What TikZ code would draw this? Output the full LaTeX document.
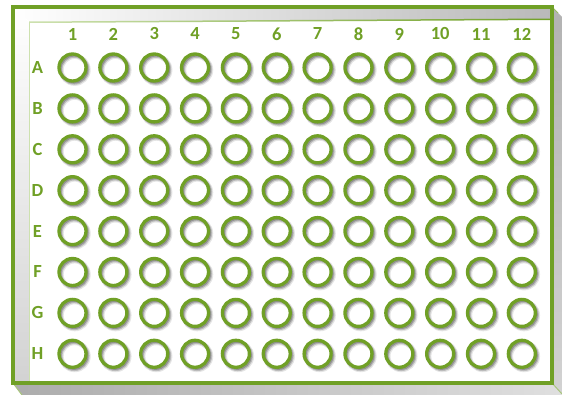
\documentclass[tikz,border=0pt]{standalone}
\usepackage{fontspec}
\setmainfont{Carlito}
\definecolor{plategreen}{RGB}{112,160,38}
\definecolor{lightgreen}{RGB}{205,225,175}
\begin{document}
\begin{tikzpicture}[x=1pt,y=-1pt,
  well/.style={circle,draw=plategreen,line width=3.3pt,minimum size=27pt,inner sep=0pt},
  lbl/.style={text=plategreen,font=\bfseries\fontsize{18.5}{18.5}\selectfont,inner sep=0pt},
  shadowring/.style={draw=black,line width=#1}]
\useasboundingbox (0,0) rectangle (562,395);
\fill[white] (0,0) rectangle (562,395);
% side faces
\shade[top color=gray!60,bottom color=gray!35] (552,7) -- (562,17) -- (562,395) -- (552,383) -- cycle;
\shade[left color=gray!65,right color=gray!25] (13,383) -- (552,383) -- (562,395) -- (22,395) -- cycle;
% bevel strips
\shade[left color=white,right color=gray!55] (13,7) -- (552,7) -- (552,19) -- (29,22) -- cycle;
\shade[top color=white,bottom color=gray!35] (13,7) -- (29,22) -- (29,383) -- (13,383) -- cycle;
\draw[white,line width=1pt] (14,8) -- (29,22);
% inner face
\fill[white] (29,22) -- (552,19) -- (552,383) -- (29,383) -- cycle;
\draw[lightgreen,line width=1pt] (29,383) -- (29,22);
\shade[left color=lightgreen,right color=plategreen] (29,21.5) -- (552,18.5) -- (552,20) -- (29,23) -- cycle;
% edges
\draw[plategreen!60,line width=1pt] (552,383) -- (562,394);
\draw[plategreen!70,line width=1pt] (552,7) -- (558,13);
\draw[plategreen!60,line width=1pt] (13,383) -- (22,395);
\draw[plategreen,line width=3.5pt] (13,7) rectangle (552,383);
% column labels
\foreach \c in {1,...,12}{
  \node[lbl] (col\c) at ({72.5+(\c-1)*40.85},34) {\c};
}
% row labels and wells
\foreach \r [count=\ri] in {A,B,C,D,E,F,G,H}{
  \node[lbl] (row\r) at (37.5,{67.5+(\ri-1)*40.9}) {\r};
  \foreach \c in {1,...,12}{
    \pgfmathsetmacro{\wx}{72.5+(\c-1)*40.85}
    \pgfmathsetmacro{\wy}{67.5+(\ri-1)*40.9}
    \draw[shadowring=5pt,opacity=0.10] (\wx+2.2,\wy+2.4) circle (13.5);
    \draw[shadowring=3.5pt,opacity=0.18] (\wx+1.8,\wy+2) circle (13.5);
    \draw[shadowring=2pt,opacity=0.22] (\wx+1.5,\wy+1.6) circle (13.5);
    \node[well] (w\r\c) at (\wx,\wy) {};
  }
}
\end{tikzpicture}
\end{document}
